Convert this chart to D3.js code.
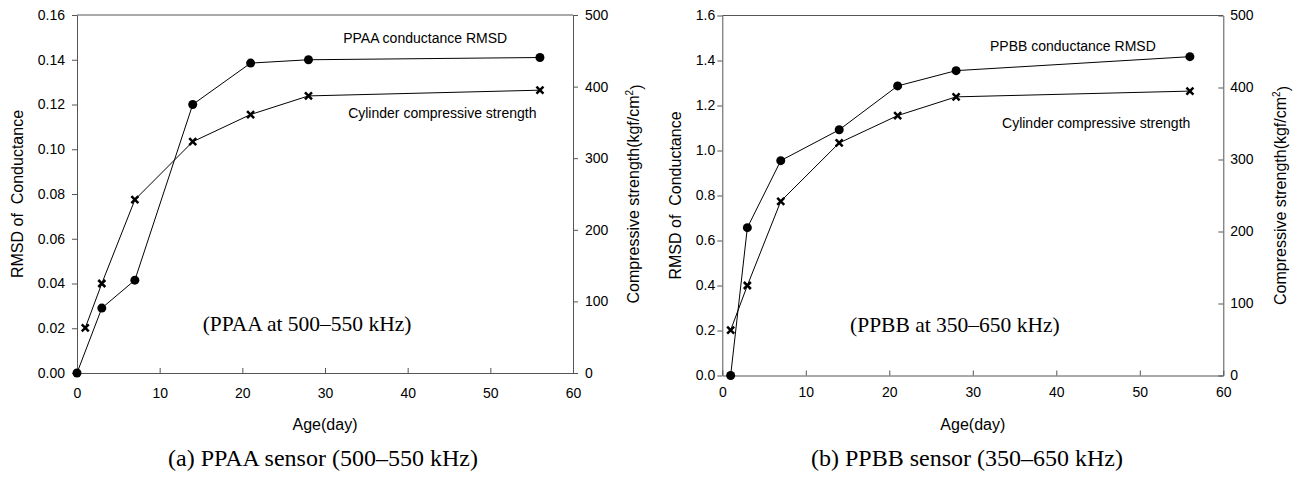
<!DOCTYPE html>
<html lang="en">
<head>
    <meta charset="UTF-8">
    <title>RMSD of Conductance vs Age</title>
    <script src="https://d3js.org/d3.v7.min.js"></script>
    <style>
        body, html {
            margin: 0;
            padding: 0;
            overflow: hidden;
            background: #fff;
        }
        svg { display: block; }
        text { font-family: "Liberation Sans", Arial, sans-serif; fill: #000; }
        .serif { font-family: "Liberation Serif", "Times New Roman", serif; }
        .tick text { font-size: 14px; }
        .axis path, .axis line { stroke: #555; }
    </style>
</head>
<body>
    <svg width="1297" height="477"></svg>

    <script>
        // data
        const ageTicks = [0, 10, 20, 30, 40, 50, 60];
        const strengthTicks = [0, 100, 200, 300, 400, 500];

        const agesPPAA = [0, 3, 7, 14, 21, 28, 56];
        const rmsdPPAA = [0.0, 0.029, 0.0415, 0.120, 0.1385, 0.140, 0.141];
        const agesPPBB = [1, 3, 7, 14, 21, 28, 56];
        const rmsdPPBB = [0.0, 0.657, 0.955, 1.092, 1.287, 1.355, 1.417];
        const agesStrength = [1, 3, 7, 14, 21, 28, 56];
        const strength = [63, 125, 242, 323, 361, 387, 395];

        const panels = [
            {
                box: [77, 573, 15, 373], rmsdMax: 0.16, rmsdTicks: d3.range(0, 0.161, 0.02), fmt: ".2f",
                ages: agesPPAA, rmsd: rmsdPPAA,
                leftPad: 7, rightTick: 5, xPad: 15,
                leftTitleX: 17, rightTitleX: 633, captionX: 323,
                rmsdLabel: ["PPAA conductance RMSD", 32.2, 0.1497],
                strLabel: ["Cylinder compressive strength", 32.8, 0.1162],
                note: ["(PPAA at 500\u2013550 kHz)", 15.2, 0.0223],
                caption: "(a) PPAA sensor (500\u2013550 kHz)"
            },
            {
                box: [722.3, 1223.3, 15.5, 375.5], rmsdMax: 1.6, rmsdTicks: d3.range(0, 1.61, 0.2), fmt: ".1f",
                ages: agesPPBB, rmsd: rmsdPPBB,
                leftPad: 2, rightTick: -5, xPad: 12,
                leftTitleX: 675, rightTitleX: 1280, captionX: 967,
                rmsdLabel: ["PPBB conductance RMSD", 32.06, 1.464],
                strLabel: ["Cylinder compressive strength", 33.5, 1.122],
                note: ["(PPBB at 350\u2013650 kHz)", 15.3, 0.229],
                caption: "(b) PPBB sensor (350\u2013650 kHz)"
            }
        ];

        const svg = d3.select("svg");

        panels.forEach(p => {
            const [x0, x1, y0, y1] = p.box;
            const x = d3.scaleLinear().domain([0, 60]).range([x0, x1]);
            const yL = d3.scaleLinear().domain([0, p.rmsdMax]).range([y1, y0]);
            const yR = d3.scaleLinear().domain([0, 500]).range([y1, y0]);
            const g = svg.append("g");

            // top frame line
            g.append("line")
                .attr("x1", x0).attr("x2", x1).attr("y1", y0).attr("y2", y0)
                .attr("stroke", "#555");

            g.append("g").attr("class", "axis")
                .attr("transform", `translate(0,${y1})`)
                .call(d3.axisBottom(x).tickValues(ageTicks).tickSize(-5).tickPadding(p.xPad).tickSizeOuter(0));

            g.append("g").attr("class", "axis")
                .attr("transform", `translate(${x0},0)`)
                .call(d3.axisLeft(yL).tickValues(p.rmsdTicks).tickFormat(d3.format(p.fmt))
                    .tickSize(5).tickPadding(p.leftPad).tickSizeOuter(0));

            g.append("g").attr("class", "axis")
                .attr("transform", `translate(${x1},0)`)
                .call(d3.axisRight(yR).tickValues(strengthTicks).tickSize(p.rightTick).tickPadding(7).tickSizeOuter(0));

            g.selectAll(".domain").attr("stroke", "#555");

            // rmsd series
            const rmsdPts = p.ages.map((a, i) => [x(a), yL(p.rmsd[i])]);
            g.append("path")
                .attr("d", d3.line()(rmsdPts))
                .attr("fill", "none").attr("stroke", "#000").attr("stroke-width", 1);
            g.selectAll(".dot").data(rmsdPts).enter().append("circle")
                .attr("cx", d => d[0]).attr("cy", d => d[1]).attr("r", 4.5).attr("fill", "#000");

            // strength series
            const strPts = agesStrength.map((a, i) => [x(a), yR(strength[i])]);
            g.append("path")
                .attr("d", d3.line()(strPts))
                .attr("fill", "none").attr("stroke", "#000").attr("stroke-width", 1);
            g.selectAll(".cross").data(strPts).enter().append("path")
                .attr("d", d => `M${d[0] - 3.5},${d[1] - 3.5}L${d[0] + 3.5},${d[1] + 3.5}M${d[0] - 3.5},${d[1] + 3.5}L${d[0] + 3.5},${d[1] - 3.5}`)
                .attr("stroke", "#000").attr("stroke-width", 2.5);

            // series labels
            [p.rmsdLabel, p.strLabel].forEach(l => {
                g.append("text")
                    .attr("x", x(l[1])).attr("y", yL(l[2])).attr("dy", "0.35em")
                    .style("font-size", "14px")
                    .text(l[0]);
            });

            g.append("text").attr("class", "serif")
                .attr("x", x(p.note[1])).attr("y", yL(p.note[2])).attr("dy", "0.35em")
                .style("font-size", "21.5px")
                .text(p.note[0]);

            // axis titles
            const cy = (y0 + y1) / 2;
            g.append("text")
                .attr("transform", `translate(${p.leftTitleX},${cy}) rotate(-90)`)
                .attr("text-anchor", "middle").attr("dy", "0.35em")
                .style("font-size", "16px")
                .style("white-space", "pre")
                .text("RMSD of  Conductance");

            const rt = g.append("text")
                .attr("transform", `translate(${p.rightTitleX},${cy}) rotate(-90)`)
                .attr("text-anchor", "middle").attr("dy", "0.35em")
                .style("font-size", "16px");
            rt.append("tspan").text("Compressive strength(kgf/cm");
            rt.append("tspan").attr("dy", "-0.55em").style("font-size", "10px").text("2");
            rt.append("tspan").attr("dy", "0.55em").text(")");

            g.append("text")
                .attr("x", (x0 + x1) / 2).attr("y", 424).attr("dy", "0.35em")
                .attr("text-anchor", "middle")
                .style("font-size", "16px")
                .text("Age(day)");

            g.append("text").attr("class", "serif")
                .attr("x", p.captionX).attr("y", 466)
                .attr("text-anchor", "middle")
                .style("font-size", "24px")
                .text(p.caption);
        });
    </script>
</body>
</html>
